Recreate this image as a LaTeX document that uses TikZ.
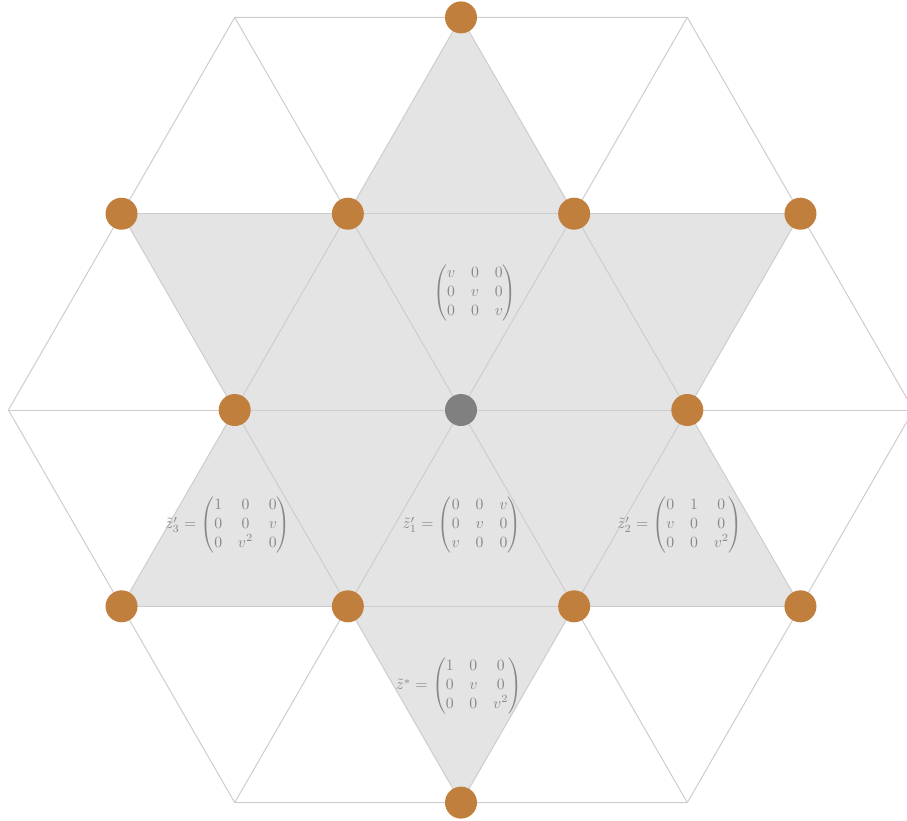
\documentclass[tikz,border=0pt]{standalone}
\usepackage{amsmath}
\definecolor{fillgray}{RGB}{228,228,228}
\definecolor{linegray}{RGB}{205,205,205}
\definecolor{textgray}{RGB}{135,135,135}
\definecolor{dotorange}{RGB}{193,127,62}
\definecolor{dotgray}{RGB}{128,128,128}
\tikzset{
  latline/.style={draw=linegray, line width=1pt},
  orangedot/.style={circle, fill=dotorange, minimum size=32pt, inner sep=0pt},
  centerdot/.style={circle, fill=dotgray, minimum size=32pt, inner sep=0pt},
  matlabel/.style={text=textgray, scale=1.57, inner sep=0pt}
}
\begin{document}
\begin{tikzpicture}[x=1pt,y=-1pt]
\useasboundingbox (0,0) rectangle (907,820);
\clip (0,0) rectangle (907,820);
% lattice points
\coordinate (m2a) at (234.7,17.4);  \coordinate (m2b) at (461,17.4);  \coordinate (m2c) at (687.3,17.4);
\coordinate (m1a) at (121.55,213.7); \coordinate (m1b) at (347.85,213.7); \coordinate (m1c) at (574.15,213.7); \coordinate (m1d) at (800.45,213.7);
\coordinate (z0a) at (8.4,410); \coordinate (z0b) at (234.7,410); \coordinate (z0c) at (461,410); \coordinate (z0d) at (687.3,410); \coordinate (z0e) at (913.6,410);
\coordinate (p1a) at (121.55,606.3); \coordinate (p1b) at (347.85,606.3); \coordinate (p1c) at (574.15,606.3); \coordinate (p1d) at (800.45,606.3);
\coordinate (p2a) at (234.7,802.6);  \coordinate (p2b) at (461,802.6);  \coordinate (p2c) at (687.3,802.6);
% hexagram fill
\fill[fillgray] (m2b) -- (p1a) -- (p1d) -- cycle;
\fill[fillgray] (m1a) -- (m1d) -- (p2b) -- cycle;
% hexagon outline
\draw[latline] (z0a) -- (m2a) -- (m2c) -- (z0e) -- (p2c) -- (p2a) -- cycle;
% horizontals
\draw[latline] (m1a) -- (m1d);
\draw[latline] (z0a) -- (z0e);
\draw[latline] (p1a) -- (p1d);
% up-right diagonals
\draw[latline] (p1a) -- (m2b);
\draw[latline] (p2a) -- (m2c);
\draw[latline] (p2b) -- (m1d);
% down-right diagonals
\draw[latline] (m1a) -- (p2b);
\draw[latline] (m2a) -- (p2c);
\draw[latline] (m2b) -- (p1d);
% labels
\node[matlabel] (mtop) at (475,293) {$\begin{pmatrix} v & 0 & 0\\ 0 & v & 0\\ 0 & 0 & v\end{pmatrix}$};
\node[matlabel] (mz3) at (228,525) {$\tilde{z}'_3 = \begin{pmatrix} 1 & 0 & 0\\ 0 & 0 & v\\ 0 & v^2 & 0\end{pmatrix}$};
\node[matlabel] (mz1) at (462,525) {$\tilde{z}'_1 = \begin{pmatrix} 0 & 0 & v\\ 0 & v & 0\\ v & 0 & 0\end{pmatrix}$};
\node[matlabel] (mz2) at (680,525) {$\tilde{z}'_2 = \begin{pmatrix} 0 & 1 & 0\\ v & 0 & 0\\ 0 & 0 & v^2\end{pmatrix}$};
\node[matlabel] (mzs) at (459,686) {$\tilde{z}^{*} = \begin{pmatrix} 1 & 0 & 0\\ 0 & v & 0\\ 0 & 0 & v^2\end{pmatrix}$};
% dots
\foreach \p in {m2b,m1a,m1b,m1c,m1d,z0b,z0d,p1a,p1b,p1c,p1d,p2b}
  \node[orangedot] (d\p) at (\p) {};
\node[centerdot] (dz0c) at (z0c) {};
\end{tikzpicture}
\end{document}
